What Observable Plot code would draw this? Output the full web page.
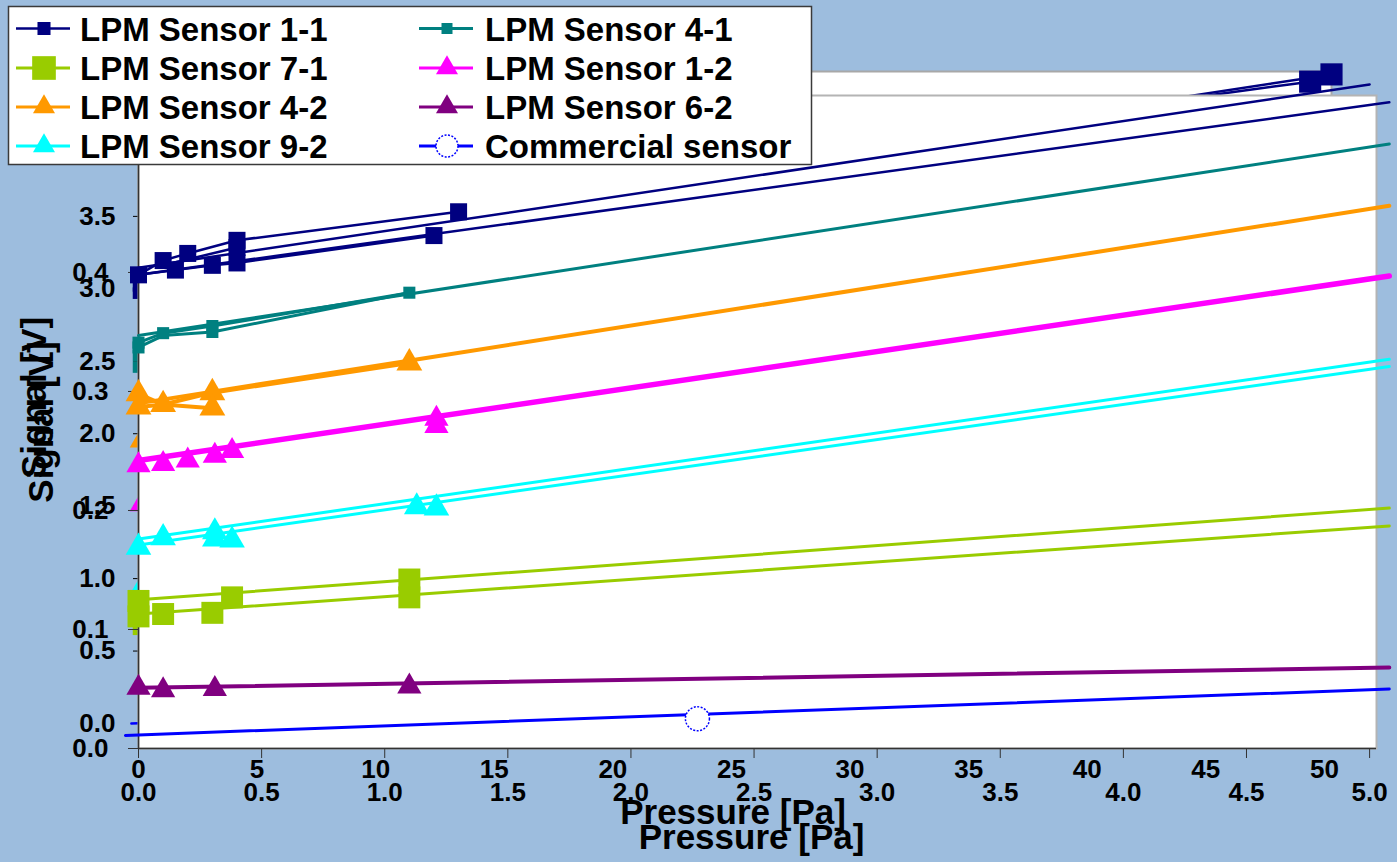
<!DOCTYPE html>
<html>
<head>
<meta charset="utf-8">
<script src="https://cdn.jsdelivr.net/npm/d3@7"></script>
<script src="https://cdn.jsdelivr.net/npm/@observablehq/plot@0.6"></script>
<style>
html,body{margin:0;padding:0;background:#9DBDDE;}
#wrap{position:relative;width:1397px;height:862px;overflow:hidden;background:#9DBDDE;font-family:"Liberation Sans",Arial,sans-serif;}
#wrap svg{position:absolute;left:0;top:0;}
</style>
</head>
<body>
<div id="wrap"></div>
<script>
// ---------- DATA ----------
const seriesNames = ["LPM Sensor 1-1","LPM Sensor 4-1","LPM Sensor 7-1","LPM Sensor 1-2","LPM Sensor 4-2","LPM Sensor 6-2","LPM Sensor 9-2","Commercial sensor"];

// Front chart (Pressure 0–5 Pa): measured points
const s11X = [0, 0.1, 0.15, 0.2, 0.3, 0.4, 0.4, 0.4, 1.2, 1.3];
const s11Y = [0.398, 0.410, 0.402, 0.416, 0.406, 0.427, 0.421, 0.408, 0.431, 0.451];
const s41X = [0, 0, 0.1, 0.3, 0.3, 1.1];
const s41Y = [0.341, 0.337, 0.349, 0.355, 0.350, 0.383];
const s71X = [0, 0, 0.1, 0.3, 0.38, 1.1, 1.1];
const s71Y = [0.124, 0.111, 0.113, 0.114, 0.127, 0.142, 0.127];
const s12X = [0, 0.1, 0.2, 0.31, 0.38, 1.21, 1.21];
const s12Y = [0.238, 0.239, 0.242, 0.246, 0.250, 0.277, 0.271];
const s42X = [0, 0, 0.1, 0.3, 0.3, 1.1];
const s42Y = [0.298, 0.287, 0.289, 0.299, 0.286, 0.324];
const s62X = [0, 0.1, 0.31, 1.1];
const s62Y = [0.051, 0.049, 0.050, 0.052];
const s92X = [0, 0.1, 0.31, 0.31, 0.38, 1.13, 1.21];
const s92Y = [0.169, 0.177, 0.182, 0.176, 0.175, 0.203, 0.202];
const comX = [2.27];
const comY = [0.025];

// Front chart: connected measurement runs
const runSeries = ["LPM Sensor 1-1","LPM Sensor 1-1","LPM Sensor 1-1","LPM Sensor 4-1","LPM Sensor 4-1","LPM Sensor 4-2","LPM Sensor 4-2"];
const runX = [[0,0.1,0.2,0.4,1.3],[0,0.15,0.3,0.4,1.2],[0.1,0.4],[0,0.1,0.3,1.1],[0,0.1,0.3,1.1],[0,0.1,0.3],[0,0.1,0.3,1.1]];
const runY = [[0.398,0.410,0.416,0.427,0.451],[0.398,0.402,0.406,0.408,0.431],[0.406,0.421],[0.341,0.349,0.355,0.383],[0.337,0.347,0.350,0.383],[0.298,0.289,0.286],[0.287,0.289,0.299,0.324]];

// Front chart: trend lines (start / end)
const trendSeries = ["LPM Sensor 1-1","LPM Sensor 1-1","LPM Sensor 4-1","LPM Sensor 7-1","LPM Sensor 7-1","LPM Sensor 1-2","LPM Sensor 4-2","LPM Sensor 6-2","LPM Sensor 9-2","LPM Sensor 9-2","Commercial sensor"];
const trendX0 = [0, 0, 0, 0, 0, 0, 0, 0, 0, 0, -0.053];
const trendY0 = [0.404, 0.398, 0.347, 0.125, 0.113, 0.242, 0.290, 0.051, 0.176, 0.171, 0.011];
const trendX1 = [5.0, 5.08, 5.08, 5.08, 5.08, 5.08, 5.08, 5.08, 5.08, 5.08, 5.08];
const trendY1 = [0.558, 0.543, 0.508, 0.202, 0.187, 0.397, 0.456, 0.068, 0.327, 0.321, 0.050];

// Back chart (Pressure 0–50 Pa)
const backZeroSeries = ["LPM Sensor 1-1","LPM Sensor 1-1","LPM Sensor 4-1","LPM Sensor 4-1","LPM Sensor 4-2","LPM Sensor 1-2","LPM Sensor 9-2","LPM Sensor 7-1"];
const backZeroY = [3.02, 2.97, 2.54, 2.46, 1.94, 1.50, 0.925, 0.65];
const backNavyX = [[0, 13, 49.4], [0, 13, 50.3]];
const backNavyY = [[3.02, 3.62, 4.43], [2.97, 3.55, 4.48]];
const backComX = [-0.3, 50.3];
const backComY = [0.0, 0.3];

// Ticks
const frontXTicks = [0, 0.5, 1, 1.5, 2, 2.5, 3, 3.5, 4, 4.5, 5];
const frontYTicks = [0, 0.1, 0.2, 0.3, 0.4];
const backXTicks = [0, 5, 10, 15, 20, 25, 30, 35, 40, 45, 50];
const backYTicks = [0, 0.5, 1, 1.5, 2, 2.5, 3, 3.5];

// ---------- STYLES ----------
const look = {
  "LPM Sensor 1-1": {color:"#000080", w:2.5, sym:"square", r:9.6, legType:d3.symbolSquare, legSize:170},
  "LPM Sensor 4-1": {color:"#008080", w:3, sym:"square", r:6.8, legType:d3.symbolSquare, legSize:121},
  "LPM Sensor 7-1": {color:"#99CC00", w:3, sym:"square", r:12.4, legType:d3.symbolSquare, legSize:560},
  "LPM Sensor 1-2": {color:"#FF00FF", w:5.5, sym:"triangle", r:9, legType:d3.symbolTriangle, legSize:210},
  "LPM Sensor 4-2": {color:"#FF9900", w:4, sym:"triangle", r:9.6, legType:d3.symbolTriangle, legSize:210},
  "LPM Sensor 6-2": {color:"#800080", w:4, sym:"triangle", r:9, legType:d3.symbolTriangle, legSize:210},
  "LPM Sensor 9-2": {color:"#00FFFF", w:3, sym:"triangle", r:9.5, legType:d3.symbolTriangle, legSize:210},
  "Commercial sensor": {color:"#0000FF", w:3, sym:"circle", r:12, legType:d3.symbolCircle, legSize:380}
};
const frontPts = {
  "LPM Sensor 1-1":[s11X,s11Y], "LPM Sensor 4-1":[s41X,s41Y], "LPM Sensor 7-1":[s71X,s71Y],
  "LPM Sensor 1-2":[s12X,s12Y], "LPM Sensor 4-2":[s42X,s42Y], "LPM Sensor 6-2":[s62X,s62Y],
  "LPM Sensor 9-2":[s92X,s92Y], "Commercial sensor":[comX,comY]
};

const svgStyle = {background:"transparent", overflow:"visible", fontFamily:"'Liberation Sans', Arial, sans-serif", fontSize:"26px", fontWeight:"bold", color:"#000"};
const wrap = document.getElementById("wrap");
const titleOpts = {fontSize:35, fontWeight:"bold", textAnchor:"middle", lineAnchor:"middle"};

// ---------- BACK CHART ----------
const backMarks = [
  Plot.frame({fill:"white", stroke:"#a8a8a8", strokeWidth:2}),
  Plot.axisX({ticks: backXTicks, tickSize:0, tickPadding:36, label:null, tickFormat: d => String(d)}),
  Plot.axisY({ticks: backYTicks, tickSize:5, tickPadding:18, label:null, tickFormat: d => d.toFixed(1)})
];
const backComRows = backComX.map((x,i)=>({x, y:backComY[i]}));
backMarks.push(Plot.line(backComRows, {x:"x", y:"y", stroke:look["Commercial sensor"].color, strokeWidth:2.5}));
const backNavyRows = backNavyX.flatMap((xs,k)=>xs.map((x,i)=>({k, x, y:backNavyY[k][i]})));
backMarks.push(Plot.line(backNavyRows, {x:"x", y:"y", z:"k", stroke:look["LPM Sensor 1-1"].color, strokeWidth:2.5}));
backMarks.push(Plot.dot(backNavyRows.filter(d=>d.x>40), {x:"x", y:"y", symbol:"square", r:12.5, fill:look["LPM Sensor 1-1"].color}));
seriesNames.forEach(name=>{
  const rows = backZeroY.map((y,i)=>({s:backZeroSeries[i], x:0, y})).filter(d=>d.s===name);
  if (rows.length) backMarks.push(Plot.dot(rows, {x:"x", y:"y", symbol:look[name].sym, r:6.5, fill:look[name].color}));
});
backMarks.push(Plot.text(["Pressure [Pa]"], {text:d=>d, frameAnchor:"bottom", dy:89, dx:-2, ...titleOpts}));
backMarks.push(Plot.text(["Signal [V]"], {text:d=>d, frameAnchor:"left", dx:-104, rotate:-90, ...titleOpts}));

const back = Plot.plot({
  width:1397, height:862,
  marginLeft:138, marginRight:66, marginTop:71, marginBottom:139,
  x:{domain:[0,50.3]}, y:{domain:[0,4.5]},
  style: svgStyle,
  marks: backMarks
});
wrap.appendChild(back);

// ---------- FRONT CHART ----------
const frontMarks = [
  Plot.frame({fill:"white", stroke:"#b4b4b4", strokeWidth:2}),
  Plot.ruleX([0], {stroke:"#333", strokeWidth:1.5}),
  Plot.ruleY([0], {stroke:"#333", strokeWidth:1.5}),
  Plot.axisX({ticks: frontXTicks, tickSize:10, tickPadding:24, label:null, tickFormat: d => d.toFixed(1), stroke:"#333"}),
  Plot.axisY({ticks: frontYTicks, tickSize:10, tickPadding:20, label:null, tickFormat: d => d.toFixed(1), stroke:"#333"})
];
const trendRows = trendSeries.flatMap((s,i)=>[{s,k:i,x:trendX0[i],y:trendY0[i]},{s,k:i,x:trendX1[i],y:trendY1[i]}]);
const runRows = runSeries.flatMap((s,k)=>runX[k].map((x,i)=>({s,k,x,y:runY[k][i]})));
seriesNames.forEach(name=>{
  const st = look[name];
  frontMarks.push(Plot.line(trendRows.filter(d=>d.s===name), {x:"x", y:"y", z:"k", stroke:st.color, strokeWidth:st.w}));
  const rr = runRows.filter(d=>d.s===name);
  if (rr.length) frontMarks.push(Plot.line(rr, {x:"x", y:"y", z:"k", stroke:st.color, strokeWidth:st.w}));
});
seriesNames.forEach(name=>{
  const st = look[name];
  const [xs, ys] = frontPts[name];
  const rows = xs.map((x,i)=>({x, y:ys[i]}));
  if (st.sym === "circle") {
    frontMarks.push(Plot.dot(rows, {x:"x", y:"y", symbol:"circle", r:st.r, fill:"white", stroke:st.color, strokeWidth:1.5, strokeDasharray:"2,1.5"}));
  } else {
    frontMarks.push(Plot.dot(rows, {x:"x", y:"y", symbol:st.sym, r:st.r, fill:st.color}));
  }
});
frontMarks.push(Plot.text(["Pressure [Pa]"], {text:d=>d, frameAnchor:"bottom", dy:89, dx:-6, ...titleOpts}));
frontMarks.push(Plot.text(["Signal [V]"], {text:d=>d, frameAnchor:"left", dx:-97, rotate:-90, ...titleOpts}));

const front = Plot.plot({
  width:1397, height:862,
  marginLeft:138, marginRight:21, marginTop:95, marginBottom:114,
  x:{domain:[0,5.028]}, y:{domain:[0,0.5487]},
  style: svgStyle,
  marks: frontMarks
});
wrap.appendChild(front);

// ---------- LEGEND ----------
const leg = d3.select(wrap).append("svg").attr("width",830).attr("height",175);
leg.append("rect").attr("x",8.5).attr("y",6.5).attr("width",803).attr("height",158)
  .attr("fill","white").attr("stroke","#3a3a3a").attr("stroke-width",1.5);
const rowCY = [28.5, 68, 107, 146];
seriesNames.forEach((name,i)=>{
  const col = i % 2, row = Math.floor(i/2);
  const cx = col ? 447 : 44, cy = rowCY[row];
  const st = look[name];
  leg.append("line").attr("x1",cx-28).attr("x2",cx+26).attr("y1",cy).attr("y2",cy)
    .attr("stroke",st.color).attr("stroke-width",Math.min(st.w,3));
  const p = leg.append("path").attr("d", d3.symbol(st.legType, st.legSize)()).attr("transform",`translate(${cx},${cy})`);
  if (st.sym === "circle") p.attr("fill","white").attr("stroke",st.color).attr("stroke-width",1.5).attr("stroke-dasharray","2,1.5");
  else p.attr("fill", st.color);
  leg.append("text").attr("x", col ? 485 : 80).attr("y", cy + 12)
    .attr("font-family","'Liberation Sans', Arial, sans-serif").attr("font-weight","bold").attr("font-size",33)
    .attr("fill","#000").text(name);
});
</script>
</body>
</html>
